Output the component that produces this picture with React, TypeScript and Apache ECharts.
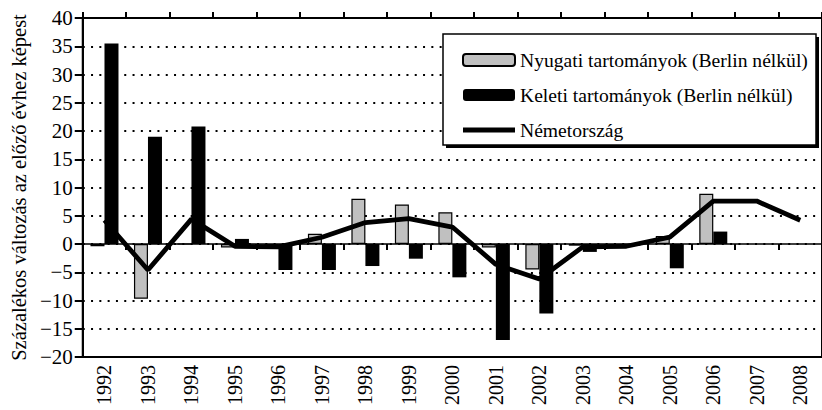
import React, { useEffect, useRef } from "react";
import * as echarts from "echarts";

const years = ["1992","1993","1994","1995","1996","1997","1998","1999","2000","2001","2002","2003","2004","2005","2006","2007","2008"];
const westValues = [-0.4, -9.7, 0, -0.6, -0.3, 1.8, 8.0, 7.0, 5.6, -0.6, -4.5, -0.3, -0.3, 1.4, 8.9, null, null];
const eastValues = [35.5, 19.0, 20.8, 0.9, -4.6, -4.6, -3.9, -2.6, -5.9, -17.0, -12.3, -1.4, -0.3, -4.3, 2.2, null, null];
const germanyValues = [4.2, -4.6, 4.4, -0.4, -0.5, 1.2, 3.8, 4.5, 3.0, -3.6, -6.2, -0.5, -0.4, 1.2, 7.6, 7.6, 4.2];
const seriesNames = ["Nyugati tartományok (Berlin nélkül)", "Keleti tartományok (Berlin nélkül)", "Németország"];
const yAxisTitle = "Százalékos változás az előző évhez képest";

const FONT = '"Liberation Serif"';

export default function App() {
  const ref = useRef<HTMLDivElement>(null);
  useEffect(() => {
    if (!ref.current) return;
    const chart = echarts.init(ref.current, null, { renderer: "svg" });
    chart.setOption({
      animation: false,
      backgroundColor: "#fff",
      textStyle: { fontFamily: FONT, color: "#000" },
      grid: {
        left: 79, top: 18, right: -7, bottom: 53,
        show: true, borderColor: "#000", borderWidth: 2, backgroundColor: "transparent",
      },
      graphic: [
        { type: "rect", z: 50, shape: { x: 446, y: 37, width: 373, height: 111 }, style: { fill: "#000" } },
        { type: "rect", z: 51, shape: { x: 443, y: 34, width: 373, height: 111 }, style: { fill: "#fff", stroke: "#000", lineWidth: 1.5 } },
      ],
      legend: {
        z: 60,
        orient: "vertical",
        left: 457, top: 45,
        itemWidth: 52, itemHeight: 12, itemGap: 15,
        textStyle: { fontFamily: FONT, fontSize: 19.6, color: "#000" },
        data: [
          { name: seriesNames[0] },
          { name: seriesNames[1] },
          { name: seriesNames[2], icon: "path://M0,0 M52,12 M0,3.6 L52,3.6 L52,8.4 L0,8.4 Z" },
        ],
      },
      xAxis: [
        {
          type: "category", data: years, position: "bottom",
          axisLine: { onZero: false, lineStyle: { color: "#000", width: 2 } },
          axisTick: { show: false },
          splitLine: { show: false },
          axisLabel: { rotate: 90, fontSize: 20, fontFamily: FONT, color: "#000", margin: 8 },
        },
        {
          type: "category", data: years, position: "bottom",
          axisLine: { onZero: true, lineStyle: { color: "#000", width: 1.5 } },
          axisTick: { show: true, length: 6, lineStyle: { color: "#000", width: 2 } },
          axisLabel: { show: false },
          splitLine: { show: false },
        },
        {
          type: "category", data: years, position: "top",
          axisLine: { onZero: true, show: false },
          axisTick: { show: true, length: 6, lineStyle: { color: "#000", width: 2 } },
          axisLabel: { show: false },
          splitLine: { show: false },
        },
      ],
      yAxis: {
        type: "value", min: -20, max: 40, interval: 5,
        name: yAxisTitle, nameLocation: "middle", nameGap: 35,
        nameTextStyle: { fontSize: 20.5, fontFamily: FONT, color: "#000" },
        axisLine: { show: true, lineStyle: { color: "#000", width: 2 } },
        axisTick: { show: true, length: 8, lineStyle: { color: "#000", width: 2 } },
        axisLabel: {
          fontSize: 21, fontFamily: FONT, color: "#000", margin: 10,
          formatter: (v: number) => String(v).replace("-", "\u2212"),
        },
        splitLine: { show: true, lineStyle: { color: "#000", width: 2, type: [2, 6.3] } },
      },
      series: [
        {
          name: seriesNames[0], type: "bar", xAxisIndex: 0, data: westValues,
          barWidth: 14, barGap: "0%",
          itemStyle: { color: "#c0c0c0", borderColor: "#000", borderWidth: 1.2 },
        },
        {
          name: seriesNames[1], type: "bar", xAxisIndex: 0, data: eastValues,
          barWidth: 14, barGap: "0%",
          itemStyle: { color: "#000", borderColor: "#000", borderWidth: 0 },
        },
        {
          name: seriesNames[2], type: "line", xAxisIndex: 0, data: germanyValues,
          symbol: "none", z: 5,
          lineStyle: { color: "#000", width: 4.8 },
          itemStyle: { color: "#000" },
        },
      ],
    });
    return () => chart.dispose();
  }, []);
  return (
    <div
      ref={ref}
      style={{ position: "fixed", left: 0, top: 0, width: 822, height: 410, background: "#fff" }}
    />
  );
}
